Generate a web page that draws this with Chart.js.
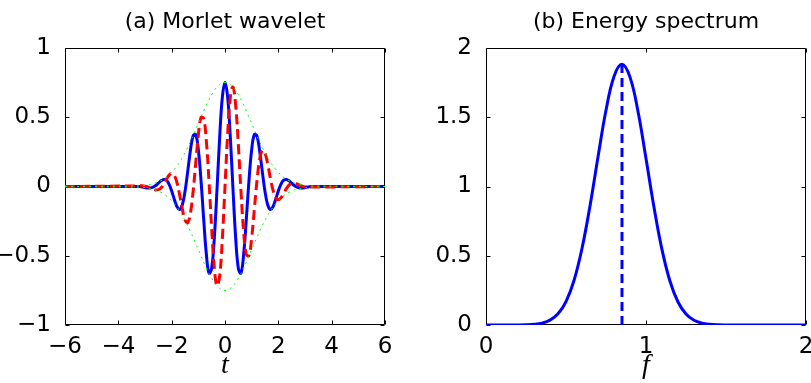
<!DOCTYPE html>
<html>
<head>
<meta charset="utf-8">
<script src="https://cdn.jsdelivr.net/npm/chart.js@4.4.1/dist/chart.umd.min.js"></script>
<style>
    html, body { margin: 0; padding: 0; background: #fff; }
    #wrap { position: relative; width: 811px; height: 383px; }
    canvas { position: absolute; top: 0; }
</style>
</head>
<body>
<div id="wrap">
    <canvas id="morlet" width="405" height="383" style="left:0"></canvas>
    <canvas id="spectrum" width="406" height="383" style="left:405px"></canvas>
</div>
<script>
// (a) Morlet wavelet, sampled along t
const timeValues = [-6,
    -3.2, -3.1, -3.0, -2.9, -2.8, -2.7, -2.6, -2.5, -2.4, -2.3, -2.2, -2.1, -2.0, -1.9, -1.8, -1.7,
    -1.6, -1.5, -1.4, -1.3, -1.2, -1.1, -1.0, -0.9, -0.8, -0.7, -0.6, -0.5, -0.4, -0.3, -0.2, -0.1,
    0,
    0.1, 0.2, 0.3, 0.4, 0.5, 0.6, 0.7, 0.8, 0.9, 1.0, 1.1, 1.2, 1.3, 1.4, 1.5, 1.6,
    1.7, 1.8, 1.9, 2.0, 2.1, 2.2, 2.3, 2.4, 2.5, 2.6, 2.7, 2.8, 2.9, 3.0, 3.1, 3.2,
    6];
const realPart = [0,
    -0.0009, -0.0042, -0.0079, -0.0109, -0.0107, -0.0052, 0.0067, 0.0236, 0.0410, 0.0510, 0.0452, 0.0173, -0.0323, -0.0934, -0.1462, -0.1661,
    -0.1319, -0.0364, 0.1055, 0.2561, 0.3630, 0.3756, 0.2661, 0.0450, -0.2341, -0.4873, -0.6263, -0.5899, -0.3704, -0.0215, 0.3553, 0.6435,
    0.7511,
    0.6435, 0.3553, -0.0215, -0.3704, -0.5899, -0.6263, -0.4873, -0.2341, 0.0450, 0.2661, 0.3756, 0.3630, 0.2561, 0.1055, -0.0364, -0.1319,
    -0.1661, -0.1462, -0.0934, -0.0323, 0.0173, 0.0452, 0.0510, 0.0410, 0.0236, 0.0067, -0.0052, -0.0107, -0.0109, -0.0079, -0.0042, -0.0009,
    0];
const imagPart = [0,
    0.0044, 0.0046, 0.0025, -0.0026, -0.0103, -0.0189, -0.0247, -0.0231, -0.0100, 0.0154, 0.0492, 0.0810, 0.0964, 0.0808, 0.0266, -0.0613,
    -0.1619, -0.2411, -0.2614, -0.1962, -0.0438, 0.1649, 0.3699, 0.4990, 0.4926, 0.3288, 0.0376, -0.3023, -0.5862, -0.7178, -0.6448, -0.3802,
    0,
    0.3802, 0.6448, 0.7178, 0.5862, 0.3023, -0.0376, -0.3288, -0.4926, -0.4990, -0.3699, -0.1649, 0.0438, 0.1962, 0.2614, 0.2411, 0.1619,
    0.0613, -0.0266, -0.0808, -0.0964, -0.0810, -0.0492, -0.0154, 0.0100, 0.0231, 0.0247, 0.0189, 0.0103, 0.0026, -0.0025, -0.0046, -0.0044,
    0];
const upperEnvelope = [0,
    0.0045, 0.0062, 0.0083, 0.0112, 0.0149, 0.0196, 0.0256, 0.0330, 0.0422, 0.0533, 0.0668, 0.0828, 0.1017, 0.1235, 0.1486, 0.1771,
    0.2088, 0.2438, 0.2819, 0.3226, 0.3656, 0.4102, 0.4556, 0.5010, 0.5454, 0.5879, 0.6274, 0.6628, 0.6934, 0.7181, 0.7362, 0.7474,
    0.7511,
    0.7474, 0.7362, 0.7181, 0.6934, 0.6628, 0.6274, 0.5879, 0.5454, 0.5010, 0.4556, 0.4102, 0.3656, 0.3226, 0.2819, 0.2438, 0.2088,
    0.1771, 0.1486, 0.1235, 0.1017, 0.0828, 0.0668, 0.0533, 0.0422, 0.0330, 0.0256, 0.0196, 0.0149, 0.0112, 0.0083, 0.0062, 0.0045,
    0];
const lowerEnvelope = [0,
    -0.0045, -0.0062, -0.0083, -0.0112, -0.0149, -0.0196, -0.0256, -0.0330, -0.0422, -0.0533, -0.0668, -0.0828, -0.1017, -0.1235, -0.1486, -0.1771,
    -0.2088, -0.2438, -0.2819, -0.3226, -0.3656, -0.4102, -0.4556, -0.5010, -0.5454, -0.5879, -0.6274, -0.6628, -0.6934, -0.7181, -0.7362, -0.7474,
    -0.7511,
    -0.7474, -0.7362, -0.7181, -0.6934, -0.6628, -0.6274, -0.5879, -0.5454, -0.5010, -0.4556, -0.4102, -0.3656, -0.3226, -0.2819, -0.2438, -0.2088,
    -0.1771, -0.1486, -0.1235, -0.1017, -0.0828, -0.0668, -0.0533, -0.0422, -0.0330, -0.0256, -0.0196, -0.0149, -0.0112, -0.0083, -0.0062, -0.0045,
    0];

// (b) Energy spectrum, sampled along f
const freqValues = [0, 0.05, 0.1, 0.15, 0.2, 0.25, 0.3, 0.35, 0.4, 0.45, 0.5, 0.55, 0.6, 0.65, 0.7, 0.75, 0.8,
    0.85, 0.9, 0.95, 1.0, 1.05, 1.1, 1.15, 1.2, 1.25, 1.3, 1.35, 1.4, 1.45, 1.5, 1.55, 1.6,
    1.7, 1.8, 1.9, 2.0];
const energyValues = [0, 0, 0, 0.0001, 0.0005, 0.0016, 0.0049, 0.0137, 0.0350, 0.0809, 0.1694, 0.3213, 0.5522, 0.8597, 1.2127, 1.5500, 1.7948,
    1.8830, 1.7898, 1.5414, 1.2027, 0.8503, 0.5446, 0.3160, 0.1662, 0.0791, 0.0342, 0.0134, 0.0047, 0.0015, 0.0004, 0.0001, 0,
    0, 0, 0, 0];
const peakFreq = [0.85, 0.85];
const peakEnergy = [0, 1.883];

const TICK_FONT = { family: 'DejaVu Sans', size: 23 };
const TITLE_FONT = '22px "DejaVu Sans"';
const LABEL_FONT = 'italic 28px "Liberation Serif"';

const toPoints = (xs, ys) => xs.map((x, i) => ({ x, y: ys[i] }));
const minusSign = (v) => String(v).replace('-', '\u2212');

// box, inward ticks, title and axis label in the MATLAB style
function makeFramePlugin(title, axisLabel) {
    return {
        id: 'frame',
        beforeDatasetsDraw(chart) {
            const { ctx, chartArea: a, scales: { x, y } } = chart;
            const L = Math.round(a.left) + 0.5, R = Math.round(a.right) - 0.5;
            const T = Math.round(a.top) + 0.5, B = Math.round(a.bottom) - 0.5;
            const len = 4;
            ctx.save();
            ctx.strokeStyle = '#000';
            ctx.lineWidth = 1;
            ctx.beginPath();
            ctx.rect(L, T, R - L, B - T);
            x.ticks.forEach(tk => {
                const px = Math.round(x.getPixelForValue(tk.value)) + 0.5;
                ctx.moveTo(px, B); ctx.lineTo(px, B - len);
                ctx.moveTo(px, T); ctx.lineTo(px, T + len);
            });
            y.ticks.forEach(tk => {
                const py = Math.round(y.getPixelForValue(tk.value)) + 0.5;
                ctx.moveTo(L, py); ctx.lineTo(L + len, py);
                ctx.moveTo(R, py); ctx.lineTo(R - len, py);
            });
            ctx.stroke();
            ctx.restore();
        },
        afterDraw(chart) {
            const { ctx, chartArea: a } = chart;
            const cx = (a.left + a.right) / 2;
            ctx.save();
            ctx.fillStyle = '#000';
            ctx.textAlign = 'center';
            ctx.textBaseline = 'alphabetic';
            ctx.font = TITLE_FONT;
            ctx.fillText(title, cx, 28);
            ctx.font = LABEL_FONT;
            ctx.fillText(axisLabel, cx, 373);
            ctx.restore();
        }
    };
}

function buildScales(xMin, xMax, xStep, yMin, yMax, yStep, yWidth) {
    return {
        x: {
            type: 'linear', min: xMin, max: xMax,
            grid: { display: false }, border: { display: false },
            ticks: { stepSize: xStep, autoSkip: false, maxRotation: 0, color: '#000', font: TICK_FONT, padding: 0, callback: minusSign },
            afterFit(s) { s.height = 58; s.paddingLeft = 0; s.paddingRight = 0; }
        },
        y: {
            type: 'linear', min: yMin, max: yMax,
            grid: { display: false }, border: { display: false },
            ticks: { stepSize: yStep, autoSkip: false, color: '#000', font: TICK_FONT, padding: 6, callback: minusSign },
            afterFit(s) { s.width = yWidth; s.paddingTop = 0; s.paddingBottom = 0; }
        }
    };
}

const baseOptions = (scales, padRight) => ({
    responsive: false,
    animation: false,
    events: [],
    layout: { padding: { top: 48, right: padRight, bottom: 0, left: 0 } },
    plugins: { legend: { display: false }, tooltip: { enabled: false }, title: { display: false } },
    elements: { point: { radius: 0 } },
    scales
});

new Chart(document.getElementById('morlet'), {
    type: 'line',
    data: {
        datasets: [
            { data: toPoints(timeValues, upperEnvelope), borderColor: '#00ff00', borderWidth: 1, borderDash: [2, 4], tension: 0.4, order: 1 },
            { data: toPoints(timeValues, lowerEnvelope), borderColor: '#00ff00', borderWidth: 1, borderDash: [2, 4], tension: 0.4, order: 1 },
            { data: toPoints(timeValues, imagPart), borderColor: '#ff0000', borderWidth: 3, borderDash: [10, 5], tension: 0.4, order: 2 },
            { data: toPoints(timeValues, realPart), borderColor: '#0000ff', borderWidth: 3, tension: 0.4, order: 3 },
        ]
    },
    options: baseOptions(buildScales(-6, 6, 2, -1, 1, 0.5, 65), 20),
    plugins: [makeFramePlugin('(a) Morlet wavelet', 't')]
});

new Chart(document.getElementById('spectrum'), {
    type: 'line',
    data: {
        datasets: [
            { data: toPoints(freqValues, energyValues), borderColor: '#0000ff', borderWidth: 3, tension: 0.4, order: 1 },
            { data: toPoints(peakFreq, peakEnergy), borderColor: '#0000ff', borderWidth: 3, borderDash: [9, 5], order: 2 },
        ]
    },
    options: baseOptions(buildScales(0, 2, 1, 0, 2, 0.5, 81), 5),
    plugins: [makeFramePlugin('(b) Energy spectrum', 'f')]
});
</script>
</body>
</html>
